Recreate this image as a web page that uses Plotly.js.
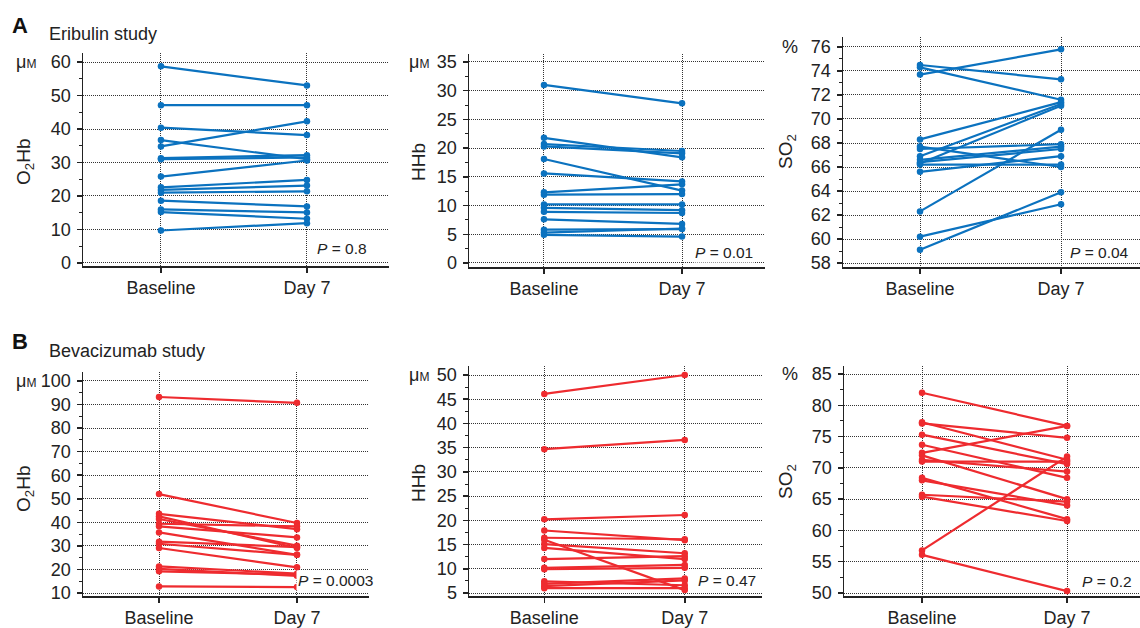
<!DOCTYPE html>
<html>
<head>
<meta charset="utf-8">
<script src="https://cdn.plot.ly/plotly-3.0.1.min.js"></script>
<style>html,body{margin:0;padding:0;background:#fff;}#chart{width:1140px;height:628px;}</style>
</head>
<body>
<div id="chart"></div>
<script>
// ---- Data ----
var timepoints = ['Baseline', 'Day 7'];

// A: Eribulin study
var eribO2HbBaseline = [58.7, 47.1, 40.4, 36.7, 34.8, 31.3, 31.0, 25.8, 22.6, 21.8, 21.0, 18.6, 16.0, 15.2, 9.7];
var eribO2HbDay7     = [53.0, 47.1, 38.2, 31.0, 42.3, 32.2, 31.5, 30.6, 24.8, 23.1, 21.4, 16.9, 15.1, 13.2, 11.9];

var eribHHbBaseline  = [31.0, 21.8, 20.7, 20.3, 18.1, 15.6, 12.3, 11.9, 10.2, 9.6, 8.9, 7.6, 5.8, 5.3, 4.9];
var eribHHbDay7      = [27.8, 18.4, 19.5, 19.1, 12.6, 14.2, 13.7, 12.0, 10.2, 9.2, 8.7, 6.8, 5.9, 6.0, 4.6];

var eribSO2Baseline  = [74.5, 74.3, 73.7, 68.3, 67.7, 67.5, 66.9, 66.6, 66.3, 66.2, 65.6, 66.4, 62.3, 60.2, 59.1];
var eribSO2Day7      = [73.3, 71.6, 75.8, 71.4, 66.0, 67.9, 71.25, 67.7, 71.1, 66.2, 66.9, 67.5, 69.1, 62.9, 63.9];

// B: Bevacizumab study
var bevO2HbBaseline  = [93.2, 52.0, 43.6, 42.5, 41.4, 39.4, 38.3, 35.7, 31.8, 30.9, 29.1, 21.3, 20.2, 19.2, 12.8];
var bevO2HbDay7      = [90.7, 39.7, 37.1, 29.1, 30.1, 38.3, 33.6, 26.2, 29.5, 26.2, 20.9, 18.2, 17.3, 17.8, 12.5];

var bevHHbBaseline   = [46.1, 34.7, 20.2, 17.9, 16.4, 16.0, 15.1, 14.3, 12.0, 10.2, 9.9, 7.4, 6.9, 6.4, 6.0];
var bevHHbDay7       = [50.0, 36.6, 21.1, 15.9, 16.1, 5.6, 13.2, 12.0, 12.6, 10.8, 10.2, 6.6, 8.0, 7.6, 6.0];

var bevSO2Baseline   = [82.0, 77.3, 77.1, 75.3, 73.7, 72.4, 72.0, 71.3, 68.4, 68.0, 65.7, 65.4, 56.8, 56.1, 71.0];
var bevSO2Day7       = [76.7, 71.3, 74.8, 70.6, 68.4, 76.7, 65.0, 69.4, 61.8, 64.0, 64.6, 61.5, 71.8, 50.3, 71.0];

var pValues = ['0.8', '0.01', '0.04', '0.0003', '0.47', '0.2'];
var yTitles = ['O<sub>2</sub>Hb', 'HHb', 'SO<sub>2</sub>', 'O<sub>2</sub>Hb', 'HHb', 'SO<sub>2</sub>'];
var yUnits  = ['μ<span style="font-size:12px">M</span>', 'μ<span style="font-size:12px">M</span>', '%',
               'μ<span style="font-size:12px">M</span>', 'μ<span style="font-size:12px">M</span>', '%'];

// ---- Layout helpers ----
var W = 1140, H = 628;
function px(x) { return x / W; }
function py(y) { return 1 - y / H; }

var BLUE = '#0b72bf', RED = '#ee2b2f';
var FONT = '"Liberation Sans", Arial, Helvetica, sans-serif';

var panels = [
  {base: eribO2HbBaseline, d7: eribO2HbDay7, color: BLUE, xpx: [83, 389], ypx: [53, 266],  yr: [-0.9, 62.69], xr: [-0.534, 1.562], dt: 10, mdt: 5, t0: 0,
   title: [25, 162], unit: [26, 62], p: [342, 248]},
  {base: eribHHbBaseline,  d7: eribHHbDay7,  color: BLUE, xpx: [469, 765], ypx: [54, 267], yr: [-0.70, 36.39], xr: [-0.543, 1.601], dt: 5, mdt: 2.5, t0: 0,
   title: [418, 162], unit: [419, 62], p: [724, 252]},
  {base: eribSO2Baseline,  d7: eribSO2Day7,  color: BLUE, xpx: [843, 1140], ypx: [37, 267], yr: [57.67, 76.83], xr: [-0.546, 1.560], dt: 2, mdt: 1, t0: 58,
   title: [787, 152], unit: [790, 47], p: [1099, 252]},
  {base: bevO2HbBaseline,  d7: bevO2HbDay7,  color: RED,  xpx: [83, 369], ypx: [372, 596], yr: [8.73, 103.8], xr: [-0.551, 1.522], dt: 10, mdt: 5, t0: 10,
   title: [25, 489], unit: [26, 381], p: [336, 580]},
  {base: bevHHbBaseline,   d7: bevHHbDay7,   color: RED,  xpx: [469, 762], ypx: [366, 596], yr: [4.38, 51.86], xr: [-0.536, 1.550], dt: 5, mdt: 2.5, t0: 5,
   title: [418, 483], unit: [419, 375], p: [727, 580]},
  {base: bevSO2Baseline,   d7: bevSO2Day7,   color: RED,  xpx: [844, 1140], ypx: [366, 596], yr: [49.52, 86.28], xr: [-0.538, 1.503], dt: 5, mdt: 2.5, t0: 50,
   title: [787, 482], unit: [790, 374], p: [1107, 581]}
];

var data = [];
var layout = {
  width: W, height: H,
  margin: {l: 0, r: 0, t: 0, b: 0},
  paper_bgcolor: '#fff', plot_bgcolor: '#fff',
  showlegend: false,
  font: {family: FONT, color: '#222', size: 18},
  annotations: []
};

panels.forEach(function (pn, i) {
  var n = i + 1;
  var xs = [], ys = [];
  for (var k = 0; k < pn.base.length; k++) {
    xs.push(timepoints[0], timepoints[1], null);
    ys.push(pn.base[k], pn.d7[k], null);
  }
  data.push({
    type: 'scatter', mode: 'lines+markers',
    x: xs, y: ys,
    xaxis: 'x' + (n === 1 ? '' : n), yaxis: 'y' + (n === 1 ? '' : n),
    line: {color: pn.color, width: 2.2},
    marker: {color: pn.color, size: 6.5},
    connectgaps: false, hoverinfo: 'skip'
  });
  var xa = {
    domain: [px(pn.xpx[0]), px(pn.xpx[1])],
    anchor: 'y' + (n === 1 ? '' : n),
    type: 'category',
    categoryorder: 'array', categoryarray: timepoints,
    range: pn.xr,
    showline: true, linecolor: '#222', linewidth: 1.5,
    ticks: 'outside', ticklen: 5, tickcolor: '#222', tickwidth: 1.5,
    showgrid: true, gridcolor: '#333', gridwidth: 1, griddash: '1px,1px',
    zeroline: false, fixedrange: true,
    tickfont: {size: 18, family: FONT, color: '#222'},
    ticklabelstandoff: 0
  };
  var ya = {
    domain: [py(pn.ypx[1]), py(pn.ypx[0])],
    anchor: 'x' + (n === 1 ? '' : n),
    range: pn.yr,
    tick0: pn.t0, dtick: pn.dt,
    showline: true, linecolor: '#222', linewidth: 1.5,
    ticks: 'outside', ticklen: 5, tickcolor: '#222', tickwidth: 1.5,
    minor: {ticks: 'outside', ticklen: 3, tickcolor: '#222', tickwidth: 1, tick0: pn.t0, dtick: pn.mdt, showgrid: false},
    showgrid: true, gridcolor: '#333', gridwidth: 1, griddash: '1px,1px',
    zeroline: false, fixedrange: true,
    tickfont: {size: 18, family: FONT, color: '#222'},
    ticklabelstandoff: 2
  };
  layout['xaxis' + (n === 1 ? '' : n)] = xa;
  layout['yaxis' + (n === 1 ? '' : n)] = ya;

  layout.annotations.push({
    xref: 'paper', yref: 'paper', x: px(pn.title[0]), y: py(pn.title[1]),
    text: yTitles[i], textangle: -90, showarrow: false,
    xanchor: 'center', yanchor: 'middle',
    font: {size: 19, family: FONT, color: '#222'}
  });
  layout.annotations.push({
    xref: 'paper', yref: 'paper', x: px(pn.unit[0]), y: py(pn.unit[1]),
    text: yUnits[i], showarrow: false,
    xanchor: 'center', yanchor: 'middle',
    font: {size: 18, family: FONT, color: '#222'}
  });
  layout.annotations.push({
    xref: 'paper', yref: 'paper', x: px(pn.p[0]), y: py(pn.p[1]),
    text: '<i>P</i> = ' + pValues[i], showarrow: false,
    xanchor: 'center', yanchor: 'middle',
    bgcolor: '#fff', borderpad: 1,
    font: {size: 15.5, family: FONT, color: '#222'}
  });
});

// Panel letters and study titles
layout.annotations.push(
  {xref: 'paper', yref: 'paper', x: px(10), y: py(25), text: '<b>A</b>', showarrow: false, xanchor: 'left', yanchor: 'middle',
   font: {size: 22, family: FONT, color: '#111'}},
  {xref: 'paper', yref: 'paper', x: px(47), y: py(34), text: 'Eribulin study', showarrow: false, xanchor: 'left', yanchor: 'middle',
   font: {size: 18, family: FONT, color: '#222'}},
  {xref: 'paper', yref: 'paper', x: px(10), y: py(341), text: '<b>B</b>', showarrow: false, xanchor: 'left', yanchor: 'middle',
   font: {size: 22, family: FONT, color: '#111'}},
  {xref: 'paper', yref: 'paper', x: px(47), y: py(351), text: 'Bevacizumab study', showarrow: false, xanchor: 'left', yanchor: 'middle',
   font: {size: 18, family: FONT, color: '#222'}}
);

Plotly.newPlot('chart', data, layout, {displayModeBar: false, staticPlot: true});
</script>
</body>
</html>
